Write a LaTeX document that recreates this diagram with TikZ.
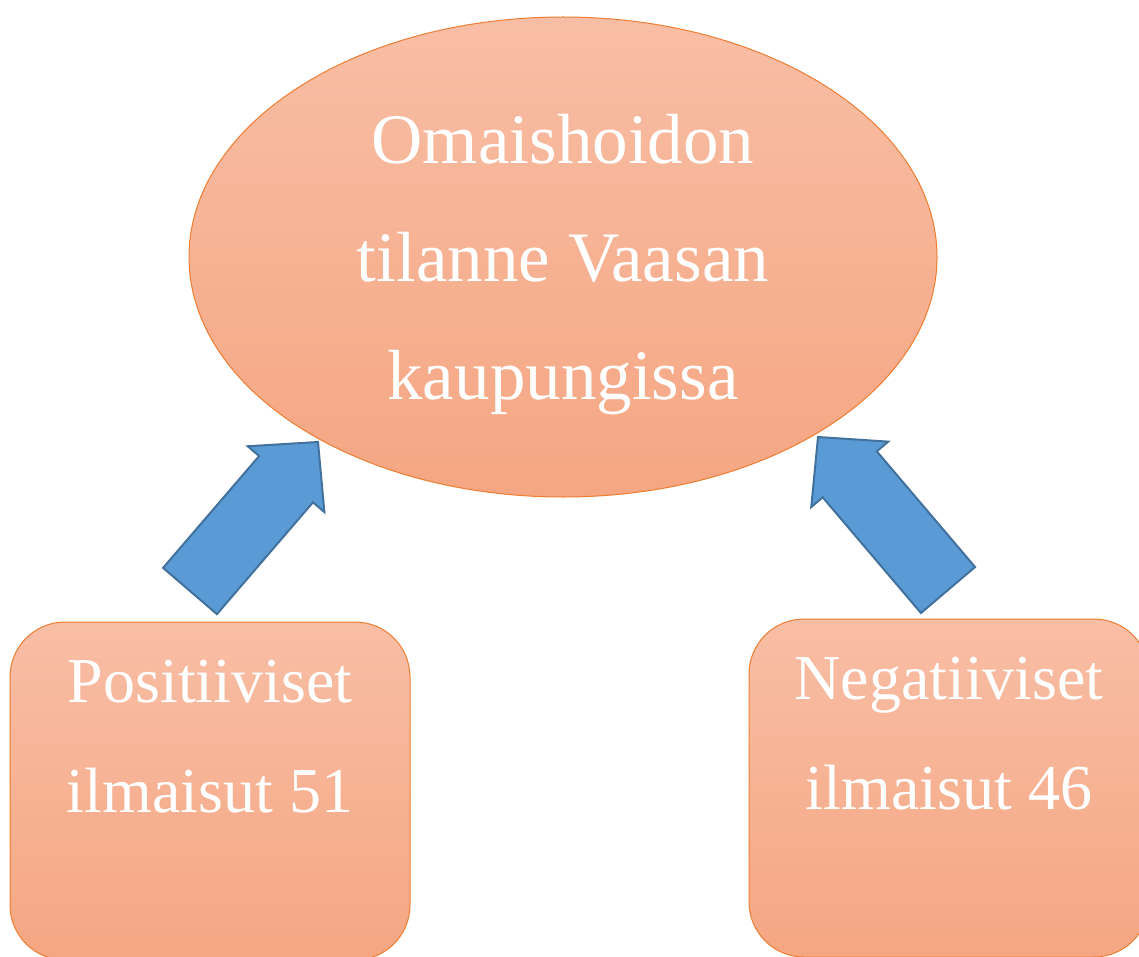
\documentclass[tikz,border=0pt]{standalone}
\usepackage{fontspec}
\setmainfont{Liberation Serif}
\usetikzlibrary{shapes.geometric}
\usetikzlibrary{calc}
\definecolor{orTop}{HTML}{F8BEA5}
\definecolor{orBot}{HTML}{F5A682}
\definecolor{orEdge}{HTML}{ED7D31}
\definecolor{arFill}{HTML}{5B9BD5}
\definecolor{arEdge}{HTML}{41719C}
\tikzset{
  topic/.style={
    ellipse,
    draw=orEdge,
    line width=.5pt,
    top color=orTop,
    bottom color=orBot,
    minimum width=374pt,
    minimum height=240pt,
    inner sep=0,
    text=white,
    align=center,
    font=\fontsize{35.5}{59}\selectfont,
  },
  tally/.style={
    rectangle,
    rounded corners=27.5pt,
    draw=orEdge,
    line width=.5pt,
    top color=orTop,
    bottom color=orBot,
    minimum width=200pt,
    minimum height=169pt,
    inner sep=0,
    text=white,
    align=center,
    font=\fontsize{32}{55}\selectfont,
  },
  bigarrow/.style={
    fill=arFill,
    draw=arEdge,
    line width=1pt,
    line join=miter,
  }
}
\newcommand{\blockarrow}[2]{% tail, tip
  \coordinate (ahead) at ($(#2)!24.5pt!(#1)$); % base of head
  \draw[bigarrow] ($(#1)!17.75pt!90:(#2)$) -- ($(ahead)!17.75pt!90:(#2)$)
    -- ($(ahead)!25.25pt!90:(#2)$) -- (#2) -- ($(ahead)!25.25pt!-90:(#2)$)
    -- ($(ahead)!17.75pt!-90:(#2)$) -- ($(#1)!17.75pt!-90:(#2)$) -- cycle;
}
\begin{document}
\begin{tikzpicture}[x=0.5pt,y=-0.5pt]
    \useasboundingbox[fill=white] (0,0) rectangle (1139,957);
    \clip (0,0) rectangle (1139,957);

    \node[topic] at (563,257) (tilanne) {\rule{0pt}{32pt}Omaishoidon\\tilanne Vaasan\\kaupungissa};

    \node[tally] at (210,791) (pos) {Positiiviset\\ilmaisut 51\\\mbox{}};
    \node[tally] at (949,788) (neg) {Negatiiviset\\ilmaisut 46\\\mbox{}};

    \coordinate (ptail) at (190,591);
    \coordinate (ptip) at (318,442);
    \coordinate (ntail) at (948,590);
    \coordinate (ntip) at (818,437);

    \blockarrow{ptail}{ptip}
    \blockarrow{ntail}{ntip}
  \end{tikzpicture}
\end{document}
